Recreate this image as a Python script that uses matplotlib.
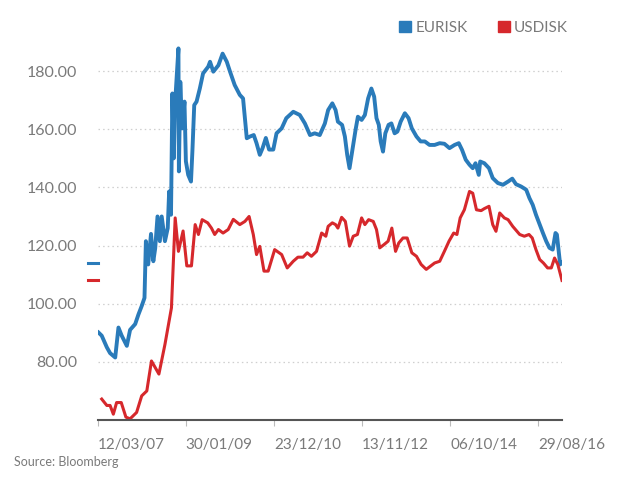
import matplotlib
matplotlib.use("Agg")
import matplotlib.pyplot as plt
from matplotlib.patches import Patch
import pandas as pd

# --- data (x in decimal years) ---
eur_t = [2007.20, 2007.27, 2007.38, 2007.45, 2007.56, 2007.63, 2007.70, 2007.81, 2007.88, 2007.99,
         2008.06, 2008.13, 2008.19, 2008.22, 2008.27, 2008.33, 2008.38, 2008.42, 2008.47, 2008.52,
         2008.56, 2008.63, 2008.69, 2008.72, 2008.76, 2008.79, 2008.82, 2008.85, 2008.88, 2008.92,
         2008.93, 2008.96, 2009.00, 2009.05, 2009.08, 2009.13, 2009.19, 2009.22, 2009.26, 2009.31,
         2009.38, 2009.45, 2009.56, 2009.60, 2009.67, 2009.78, 2009.87, 2009.96, 2010.03, 2010.13,
         2010.24, 2010.31, 2010.39, 2010.46, 2010.54, 2010.60, 2010.67, 2010.73, 2010.80, 2010.87,
         2010.96, 2011.03, 2011.14, 2011.24, 2011.39, 2011.53, 2011.64, 2011.75, 2011.85, 2011.96,
         2012.07, 2012.14, 2012.23, 2012.30, 2012.35, 2012.44, 2012.50, 2012.55, 2012.60, 2012.68,
         2012.73, 2012.78, 2012.86, 2012.93, 2013.00, 2013.07, 2013.13, 2013.18, 2013.23, 2013.27,
         2013.32, 2013.37, 2013.44, 2013.50, 2013.57, 2013.63, 2013.70, 2013.79, 2013.87, 2013.94,
         2014.04, 2014.13, 2014.22, 2014.32, 2014.43, 2014.54, 2014.64, 2014.75, 2014.86, 2014.95,
         2015.02, 2015.10, 2015.18, 2015.25, 2015.31, 2015.38, 2015.41, 2015.50, 2015.60, 2015.68,
         2015.79, 2015.90, 2016.01, 2016.10, 2016.18, 2016.29, 2016.40, 2016.47, 2016.54, 2016.61,
         2016.69, 2016.76, 2016.83, 2016.90, 2016.97, 2017.03, 2017.06, 2017.10, 2017.13, 2017.16]
eur_v = [90.1, 89.0, 85.0, 83.0, 81.5, 91.8, 89.0, 85.5, 91.0, 93.0,
         96.3, 99.2, 102.0, 121.5, 113.5, 124.0, 114.6, 119.0, 130.0, 121.5,
         130.0, 121.5, 126.0, 138.6, 130.6, 172.3, 150.0, 169.5, 177.5, 187.8,
         145.5, 176.3, 160.3, 169.5, 149.0, 144.3, 142.0, 152.3, 168.3, 169.5,
         174.0, 179.2, 181.5, 183.2, 179.8, 182.0, 186.0, 183.2, 179.8, 175.2,
         171.8, 170.6, 156.9, 157.5, 158.0, 155.2, 151.2, 153.5, 157.0, 153.0,
         153.0, 158.6, 160.3, 163.8, 166.0, 164.9, 162.0, 158.0, 158.6, 158.0,
         162.0, 166.6, 168.9, 166.6, 162.6, 161.5, 157.5, 151.2, 146.6, 154.6,
         159.8, 164.3, 163.2, 164.9, 170.6, 174.0, 171.2, 163.8, 161.5, 155.8,
         152.3, 158.6, 161.5, 162.0, 158.6, 159.2, 162.6, 165.5, 163.8, 160.3,
         157.5, 155.8, 155.8, 154.6, 154.6, 155.2, 155.0, 153.5, 154.6, 155.2,
         152.9, 149.5, 147.8, 146.6, 148.3, 144.3, 148.9, 148.3, 146.6, 143.2,
         141.5, 140.9, 142.0, 143.0, 141.1, 140.3, 139.2, 136.3, 134.0, 130.6,
         127.2, 124.3, 121.5, 119.2, 118.6, 124.3, 123.8, 118.0, 113.5, 114.1]

usd_t = [2007.27, 2007.38, 2007.45, 2007.52, 2007.59, 2007.69, 2007.79, 2007.88, 2008.02, 2008.13,
         2008.24, 2008.34, 2008.50, 2008.63, 2008.77, 2008.85, 2008.92, 2009.02, 2009.10, 2009.20,
         2009.28, 2009.35, 2009.43, 2009.55, 2009.63, 2009.70, 2009.78, 2009.88, 2009.99, 2010.10,
         2010.24, 2010.35, 2010.44, 2010.53, 2010.60, 2010.67, 2010.76, 2010.85, 2010.99, 2011.14,
         2011.26, 2011.39, 2011.49, 2011.60, 2011.69, 2011.78, 2011.89, 2012.00, 2012.09, 2012.14,
         2012.23, 2012.30, 2012.35, 2012.43, 2012.51, 2012.60, 2012.68, 2012.77, 2012.86, 2012.93,
         2013.01, 2013.11, 2013.18, 2013.25, 2013.34, 2013.43, 2013.51, 2013.59, 2013.66, 2013.75,
         2013.84, 2013.94, 2014.04, 2014.14, 2014.25, 2014.34, 2014.43, 2014.54, 2014.64, 2014.74,
         2014.84, 2014.91, 2014.98, 2015.07, 2015.18, 2015.25, 2015.33, 2015.43, 2015.50, 2015.60,
         2015.68, 2015.75, 2015.83, 2015.93, 2016.01, 2016.11, 2016.26, 2016.36, 2016.46, 2016.53,
         2016.61, 2016.69, 2016.77, 2016.86, 2016.94, 2017.01, 2017.08, 2017.17]
usd_v = [67.2, 65.0, 65.0, 62.0, 66.0, 66.0, 61.0, 60.4, 62.6, 68.3,
         70.0, 80.3, 75.8, 86.0, 98.6, 129.5, 118.0, 125.0, 113.0, 113.0,
         127.2, 123.8, 128.9, 127.8, 126.0, 123.8, 125.5, 124.3, 125.5, 129.0,
         127.2, 128.3, 130.0, 123.8, 116.9, 119.7, 111.2, 111.2, 118.6, 116.9,
         112.3, 114.6, 116.0, 116.0, 117.5, 116.3, 118.0, 124.3, 123.2, 126.6,
         127.8, 127.2, 126.0, 129.7, 128.3, 119.8, 123.2, 123.8, 129.5, 127.2,
         128.9, 128.3, 125.5, 119.2, 120.3, 121.5, 126.0, 118.0, 120.9, 122.6,
         122.6, 117.5, 116.3, 113.5, 111.8, 112.9, 114.0, 114.6, 118.0, 121.5,
         124.3, 123.8, 129.5, 132.3, 138.6, 138.0, 132.3, 132.0, 132.7, 133.5,
         127.2, 124.9, 131.2, 129.5, 128.9, 126.6, 123.8, 123.2, 123.8, 122.6,
         118.6, 115.2, 114.0, 112.3, 112.3, 115.7, 113.5, 108.0]

tick_dates = ["2007-03-12", "2009-01-30", "2010-12-23", "2012-11-13", "2014-10-06", "2016-08-29"]
y_ticks = [80, 100, 120, 140, 160, 180]

BLUE = "#2a7bba"
RED = "#d6282c"
GREY = "#7a7a7a"


def to_year(s):
    ts = pd.Timestamp(s)
    days = 366 if ts.is_leap_year else 365
    return ts.year + (ts.dayofyear - 1) / days


plt.rcParams["font.family"] = ["Lato", "DejaVu Sans"]

fig = plt.figure(figsize=(6.4, 4.96), dpi=100)
ax = fig.add_axes([98 / 640, 76 / 496, 464 / 640, 378 / 496])

ax.plot(eur_t, eur_v, color=BLUE, lw=2.8, solid_joinstyle="round")
ax.plot(usd_t, usd_v, color=RED, lw=2.2, solid_joinstyle="round")

ax.set_xlim(2007.19, 2017.17)
ax.set_ylim(60, 190)

# dotted grid
for y in y_ticks:
    ax.axhline(y, color="#cfcfcf", lw=0.9, ls=(0, (1.2, 2.5)), zorder=0)

ax.set_yticks(y_ticks)
ax.set_yticklabels([f"{v:.2f}" for v in y_ticks], color=GREY, fontsize=11.5)
ax.tick_params(axis="y", length=0, pad=15)

xt = [to_year(d) for d in tick_dates]
ax.set_xticks(xt)
ax.set_xticklabels([pd.Timestamp(d).strftime("%d/%m/%y") for d in tick_dates],
                   color=GREY, fontsize=11, ha="left")
ax.tick_params(axis="x", length=4, color="#bbbbbb", pad=9)

for side in ["top", "right", "left"]:
    ax.spines[side].set_visible(False)
ax.spines["bottom"].set_color("#555555")
ax.spines["bottom"].set_linewidth(1.5)

# last-value markers on the y axis
tr = ax.get_yaxis_transform()
ax.plot([-0.022, 0.0], [eur_v[-1]] * 2, color=BLUE, lw=2.2, transform=tr, clip_on=False)
ax.plot([-0.022, 0.0], [usd_v[-1]] * 2, color=RED, lw=2.2, transform=tr, clip_on=False)

handles = [Patch(color=BLUE, label="EURISK"), Patch(color=RED, label="USDISK")]
fig.legend(handles=handles, loc="upper right", bbox_to_anchor=(582 / 640, 1 - 7 / 496),
           ncol=2, frameon=False, fontsize=11, handlelength=0.75, handleheight=0.75,
           handletextpad=0.3, columnspacing=2.0, labelcolor=GREY)

fig.text(14 / 640, 1 - 462 / 496, "Source: Bloomberg", color=GREY, fontsize=9, va="center")

fig.savefig("out.png", dpi=100, facecolor="white")
